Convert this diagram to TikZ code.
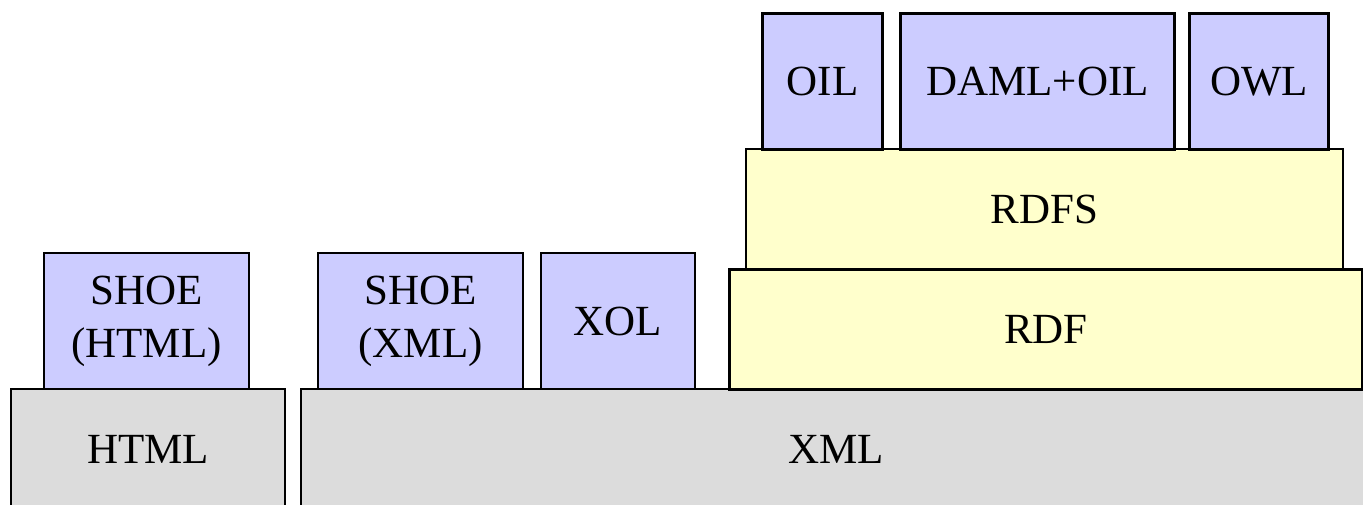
\documentclass[tikz,border=0pt]{standalone}
\usepackage{fontspec}
\setmainfont{Liberation Serif}
\definecolor{lav}{HTML}{CCCCFF}
\definecolor{yel}{HTML}{FFFFCC}
\definecolor{gry}{HTML}{DCDCDC}
\begin{document}
\begin{tikzpicture}[x=1pt,y=-1pt,
  layer/.style={draw=black, line width=2pt, anchor=north west, inner sep=0pt,
    font=\fontsize{43}{53}\selectfont, align=center},
  base/.style={layer, fill=gry},
  lang/.style={layer, fill=lav},
  rdfbox/.style={layer, fill=yel},
  thick top/.style={line width=3pt}]
\useasboundingbox (0,0) rectangle (1363,505);
\fill[white] (0,0) rectangle (1363,505);
\clip (0,0) rectangle (1363,505);
% base layer
\node[base, minimum width=274pt, minimum height=120pt] (html) at (10,388) {HTML};
\node[base, minimum width=1070pt, minimum height=120pt] (xml) at (300,388) {XML};
% rdf stack
\node[rdfbox, thick top, minimum width=633pt, minimum height=120pt] (rdf) at (728,268) {RDF};
\node[rdfbox, minimum width=597pt, minimum height=120pt] (rdfs) at (745,148) {RDFS};
% languages
\node[lang, minimum width=205pt, minimum height=136pt] (shoehtml) at (43,252) {SHOE\\(HTML)};
\node[lang, minimum width=205pt, minimum height=136pt] (shoexml) at (317,252) {SHOE\\(XML)};
\node[lang, minimum width=154pt, minimum height=136pt] (xol) at (540,252) {XOL};
\node[lang, thick top, minimum width=120pt, minimum height=136pt] (oil) at (761,12) {OIL};
\node[lang, thick top, minimum width=274pt, minimum height=136pt] (daml) at (899,12) {DAML+OIL};
\node[lang, thick top, minimum width=139pt, minimum height=136pt] (owl) at (1188,12) {OWL};
\end{tikzpicture}
\end{document}
